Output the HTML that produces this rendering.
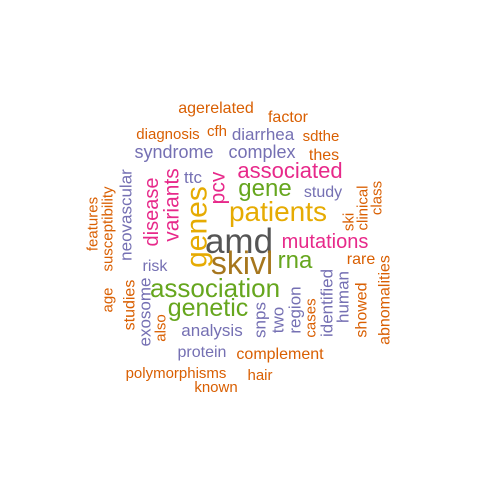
<!DOCTYPE html>
<html><head><meta charset="utf-8"><style>
html,body{margin:0;padding:0;background:#fff;width:480px;height:480px;overflow:hidden}
text{font-family:"Liberation Sans",sans-serif}
</style></head><body>
<svg width="480" height="480">
<g id="words"></g>
</svg>
<script>
const C={o:'#D95F02',p:'#7570B3',k:'#E7298A',g:'#66A61E',y:'#E6AB02',b:'#A6761D',d:'#555555'};
const words=["agerelated","factor","diagnosis","cfh","diarrhea","sdthe","syndrome","complex","thes","associated","ttc","gene","study","patients","mutations","amd","skivl","rna","rare","risk","association","genetic","analysis","protein","complement","polymorphisms","hair","known","genes","disease","variants","pcv","neovascular","features","susceptibility","age","ski","clinical","class","studies","exosome","also","snps","two","region","cases","identified","human","showed","abnomalities"];
const colors=["o","o","o","o","p","o","p","p","o","k","p","g","p","y","k","d","b","g","o","p","g","g","p","p","o","o","o","o","y","k","k","k","p","o","o","o","o","o","o","o","p","o","p","p","p","o","p","p","o","o"];
const sizes=[16,16,15,15,17,15,18,18,16,22,17,24,16,28,20,35,32,24,16,16,26,25,17,16,16,15,15,15,30,20,21,21,17,15,15,15,15,15,15,16,17,15,17,17,17,15,17,17,16,16];
const xs=[216,288,168,217,263,321,174,262,324,290,193,265,323,278,325,239,242,295,361,155,215,208,212,202,280,176,260,216,197,152,172,218,126,93,108,108,349,363,377,130,145,161,260,278,295,311,327,343,362,385];
const ys=[113,122,139,136,140,141,158,158,160,178,183,196,197,221,248,253,274,268,264,271,297,316,336,357,359,378,380,392,227,212,205,188,215,224,229,300,222,208,198,305,312,328,320,320,310,318,303,297,310,300];
const vert=[0,0,0,0,0,0,0,0,0,0,0,0,0,0,0,0,0,0,0,0,0,0,0,0,0,0,0,0,1,1,1,1,1,1,1,1,1,1,1,1,1,1,1,1,1,1,1,1,1,1];
const g=document.getElementById('words');
words.forEach((w,i)=>{
  const t=document.createElementNS('http://www.w3.org/2000/svg','text');
  
  
  t.setAttribute('fill',C[colors[i]]);
  t.setAttribute('font-size',sizes[i]);
  t.setAttribute('text-anchor','middle');
  t.setAttribute('x',xs[i]);t.setAttribute('y',ys[i]);
  if(vert[i]){t.setAttribute('dominant-baseline','central');t.setAttribute('transform','rotate(-90 '+xs[i]+' '+ys[i]+')');}
  t.textContent=w;g.appendChild(t);
});
</script>
</body></html>
